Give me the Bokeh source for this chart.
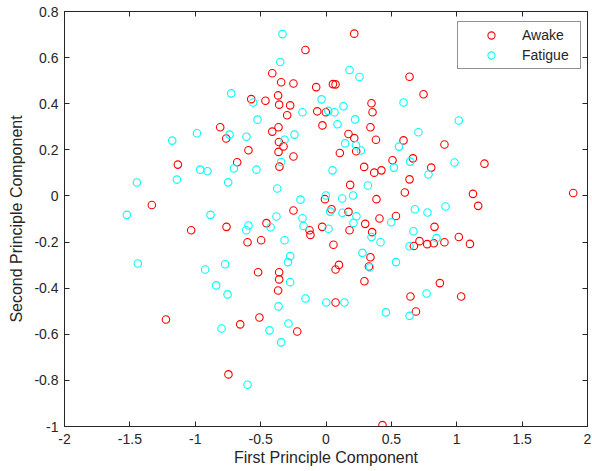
from bokeh.plotting import figure
from bokeh.models import Range1d, FixedTicker, LinearAxis
from bokeh.embed import file_html
from bokeh.resources import INLINE

# ---- data ----
awake_x = [-0.157, -0.411, -0.343, -0.249, -0.075, 0.053, 0.073, -0.366, -0.572, -0.463,
           -0.358, -0.274, -0.297, -0.067, -0.001, -0.027, -0.411, -0.363, -0.809, -0.763,
           -0.360, -0.325, -0.593, -0.363, -0.249, -0.679, -1.133, -0.356, -0.008, -1.332,
           -0.249, 0.216, 0.639, 0.746, 0.348, 0.356, 0.340, 0.172, 0.216, 0.382,
           0.593, 0.906, 0.106, 0.231, 0.509, 0.665, 1.212, 0.292, 0.369, 0.424,
           0.805, 0.639, 0.185, 0.603, 1.124, 1.891, 0.386, 1.164, 0.042, 0.172,
           0.535, 0.409, -1.031, -0.761, -0.455, -0.600, -0.496, -0.126, -0.119, -0.029,
           -0.519, -0.358, -0.358, -0.366, -1.224, -0.509, -0.656, -0.220, -0.746, 0.300,
           0.180, 0.353, 0.057, 0.830, 0.715, 0.672, 0.774, 0.825, 0.906, 1.016,
           1.101, 0.340, 0.328, 0.099, 0.073, 0.294, 0.871, 0.646, 1.034, 0.073,
           0.688, 0.432]
awake_y = [0.633, 0.532, 0.493, 0.488, 0.472, 0.485, 0.484, 0.436, 0.420, 0.413,
           0.396, 0.393, 0.350, 0.367, 0.363, 0.306, 0.279, 0.298, 0.298, 0.249,
           0.234, 0.215, 0.198, 0.191, 0.171, 0.146, 0.136, 0.127, -0.014, -0.039,
           -0.063, 0.704, 0.517, 0.441, 0.402, 0.363, 0.298, 0.269, 0.251, 0.244,
           0.241, 0.223, 0.186, 0.194, 0.155, 0.163, 0.140, 0.126, 0.101, 0.111,
           0.123, 0.072, 0.048, 0.015, 0.009, 0.013, -0.014, -0.043, -0.058, -0.069,
           -0.087, -0.098, -0.149, -0.134, -0.118, -0.201, -0.192, -0.149, -0.169, -0.134,
           -0.331, -0.331, -0.362, -0.410, -0.536, -0.527, -0.557, -0.588, -0.774, -0.121,
           -0.149, -0.157, -0.212, -0.134, -0.196, -0.217, -0.209, -0.205, -0.201, -0.178,
           -0.208, -0.266, -0.306, -0.299, -0.319, -0.370, -0.378, -0.436, -0.436, -0.462,
           -0.501, -0.994]

fatigue_x = [-0.333, -0.350, -0.725, -0.557, -0.524, -0.034, -0.180, 0.017, -0.987, -1.176,
             -0.738, -0.608, -0.317, -0.241, -0.343, -0.962, -0.906, -0.704, -0.532, -1.140,
             -1.446, -0.748, -0.373, -0.195, -0.001, 0.050, -1.523, -0.883, -0.379, -0.180,
             0.180, 0.256, 0.134, 0.065, 0.088, 0.223, 0.593, 1.016, 0.707, 0.147,
             0.229, 0.267, 0.558, 0.983, 0.644, 0.519, 0.784, 0.320, 0.124, 0.208,
             0.032, 0.126, 0.233, 0.680, 0.776, 0.914, -0.593, -0.610, -0.424, -0.172,
             0.019, -0.317, -0.274, -0.291, -1.439, -0.924, -0.771, -0.840, -0.753, -0.274,
             -0.363, -0.157, 0.002, -0.799, -0.432, -0.287, -0.343, -0.600, 0.210, 0.499,
             0.348, 0.417, 0.669, 0.845, 0.639, 0.279, 0.336, 0.535, 0.769, 0.141,
             0.458, 0.639]
fatigue_y = [0.702, 0.581, 0.445, 0.405, 0.331, 0.419, 0.363, 0.369, 0.272, 0.240,
             0.266, 0.257, 0.244, 0.266, 0.147, 0.114, 0.107, 0.119, 0.114, 0.071,
             0.058, 0.059, 0.032, -0.016, 0.002, 0.111, -0.082, -0.082, -0.089, -0.097,
             0.546, 0.516, 0.389, 0.363, 0.311, 0.332, 0.405, 0.327, 0.276, 0.228,
             0.220, 0.197, 0.214, 0.145, 0.149, 0.123, 0.093, 0.045, -0.011, 0.002,
             -0.068, -0.073, -0.088, -0.058, -0.072, -0.046, -0.128, -0.149, -0.136, -0.130,
             -0.142, -0.192, -0.261, -0.287, -0.293, -0.319, -0.296, -0.388, -0.427, -0.374,
             -0.479, -0.445, -0.462, -0.575, -0.583, -0.553, -0.635, -0.819, -0.117, -0.114,
             -0.178, -0.201, -0.153, -0.183, -0.218, -0.247, -0.310, -0.287, -0.423, -0.462,
             -0.505, -0.520]

series_names = ["Awake", "Fatigue"]
series_colors = ["#ff0000", "#00ffff"]

x_ticks = [-2, -1.5, -1, -0.5, 0, 0.5, 1, 1.5, 2]
x_tick_labels = ["-2", "-1.5", "-1", "-0.5", "0", "0.5", "1", "1.5", "2"]
y_ticks = [-1, -0.8, -0.6, -0.4, -0.2, 0, 0.2, 0.4, 0.6, 0.8]
y_tick_labels = ["-1", "-0.8", "-0.6", "-0.4", "-0.2", "0", "0.2", "0.4", "0.6", "0.8"]

x_label = "First Principle Component"
y_label = "Second Principle Component"

# ---- figure ----
FONT = "Liberation Sans"
AX = "#262626"

p = figure(width=592, height=471, output_backend="svg", toolbar_location=None,
           x_range=Range1d(-2, 2), y_range=Range1d(-1, 0.8),
           min_border_left=64, min_border_right=5, min_border_top=11, min_border_bottom=45)
p.background_fill_color = "white"
p.border_fill_color = "white"
p.grid.visible = False
p.outline_line_color = AX
p.outline_line_width = 1

p.scatter(awake_x, awake_y, marker="circle", size=7.5, fill_color=None,
          line_color=series_colors[0], line_width=1.1, legend_label=series_names[0])
p.scatter(fatigue_x, fatigue_y, marker="circle", size=7.5, fill_color=None,
          line_color=series_colors[1], line_width=1.1, legend_label=series_names[1])

def style_axis(ax, ticks, labels=None, show_labels=True):
    ax.ticker = FixedTicker(ticks=ticks)
    ax.minor_tick_line_color = None
    ax.major_tick_in = 5
    ax.major_tick_out = 0
    ax.major_tick_line_color = AX
    ax.axis_line_color = AX
    ax.major_label_text_font = FONT
    if show_labels:
        ax.major_label_overrides = dict(zip(ticks, labels))
        ax.major_label_text_font_size = "14px"
        ax.major_label_text_color = AX
    else:
        ax.major_label_text_font_size = "0px"
        ax.major_label_text_color = None
        ax.major_label_standoff = 0

style_axis(p.xaxis[0], x_ticks, x_tick_labels)
style_axis(p.yaxis[0], y_ticks, y_tick_labels)
p.xaxis[0].major_label_standoff = 7
p.yaxis[0].major_label_standoff = 6
p.xaxis[0].axis_label = x_label
p.yaxis[0].axis_label = y_label
for ax in (p.xaxis[0], p.yaxis[0]):
    ax.axis_label_text_font = FONT
    ax.axis_label_text_font_size = "16px"
    ax.axis_label_text_font_style = "normal"
    ax.axis_label_text_color = AX
p.xaxis[0].axis_label_standoff = 2
p.yaxis[0].axis_label_standoff = 6

top_ax = LinearAxis()
style_axis(top_ax, x_ticks, show_labels=False)
p.add_layout(top_ax, "above")
right_ax = LinearAxis()
style_axis(right_ax, y_ticks, show_labels=False)
p.add_layout(right_ax, "right")

lg = p.legend[0]
lg.location = (393, 357)
lg.border_line_color = AX
lg.border_line_width = 1
lg.background_fill_color = "white"
lg.background_fill_alpha = 1
lg.label_text_font = FONT
lg.label_text_font_size = "14px"
lg.label_text_color = AX
lg.padding = 4
lg.margin = 0
lg.spacing = 2
lg.glyph_width = 58
lg.glyph_height = 18
lg.label_standoff = 2
lg.label_width = 54
lg.label_height = 18

open("out.html", "w").write(file_html(p, INLINE))
